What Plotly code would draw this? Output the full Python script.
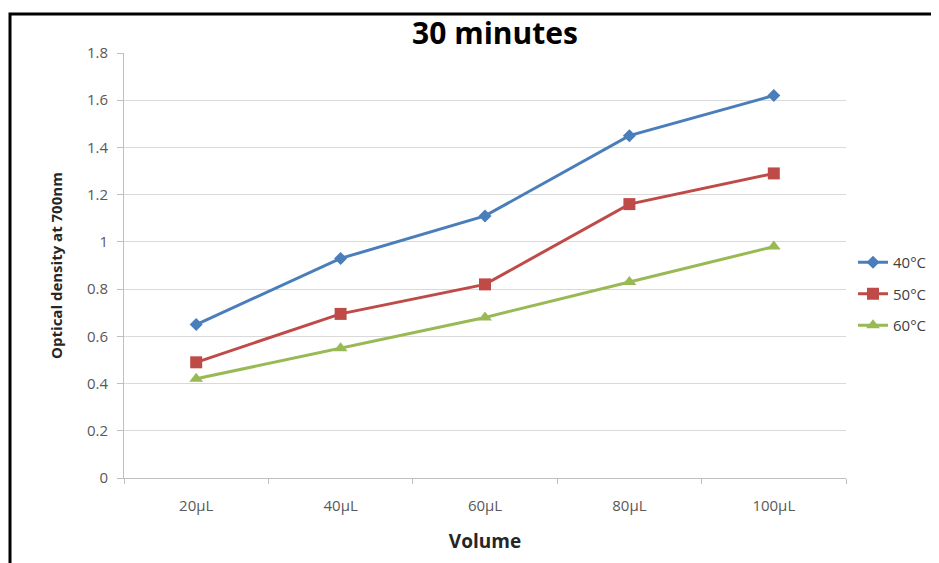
import plotly.graph_objects as go

categories = ["20µL", "40µL", "60µL", "80µL", "100µL"]
s40 = [0.65, 0.93, 1.11, 1.45, 1.62]
s50 = [0.49, 0.695, 0.82, 1.16, 1.29]
s60 = [0.42, 0.55, 0.68, 0.83, 0.98]
series_names = ["40°C", "50°C", "60°C"]
y_ticks = [0, 0.2, 0.4, 0.6, 0.8, 1.0, 1.2, 1.4, 1.6, 1.8]

FONT = "Open Sans"
colors = ["#4A7EBB", "#BE4B48", "#98B954"]
symbols = ["diamond", "square", "triangle-up"]
msizes = [10, 12, 12]

# page body has an 8px margin; figure sized to end at the viewport edge
W, H = 931, 555
L, T = 116, 45
PW, PH = 722, 425
R, B = W - L - PW, H - T - PH

fig = go.Figure()
for i, (name, vals) in enumerate(zip(series_names, [s40, s50, s60])):
    fig.add_trace(go.Scatter(
        x=categories, y=vals, name=name, mode="lines+markers",
        line=dict(color=colors[i], width=3),
        marker=dict(symbol=symbols[i], size=msizes[i], color=colors[i]),
        legendgroup=name,
    ))

fig.update_layout(
    width=W, height=H,
    margin=dict(l=L, r=R, t=T, b=B, pad=0, autoexpand=False),
    paper_bgcolor="white", plot_bgcolor="white",
    font=dict(family=FONT, color="#404040"),
    title=dict(text="<b>30 minutes</b>", x=(495 - 8) / W, xanchor="center",
               y=1 - (33 - 8) / H, yanchor="middle",
               font=dict(family=FONT, size=30, color="#000000")),
    showlegend=True,
    legend=dict(x=(853 - 124) / PW, y=(478 - 246) / PH, xanchor="left", yanchor="top",
                font=dict(family=FONT, size=15, color="#404040"),
                tracegroupgap=9, itemwidth=30, bgcolor="rgba(0,0,0,0)"),
    xaxis=dict(
        type="category", showgrid=False, showline=True, linecolor="#BFBFBF", linewidth=1,
        ticks="outside", tickson="boundaries", ticklen=5, tickcolor="#BFBFBF",
        tickfont=dict(family=FONT, size=15, color="#595959"),
        ticklabelstandoff=14,
        title=dict(text="<b>Volume</b>", font=dict(family=FONT, size=19, color="#262626"), standoff=20),
        range=[-0.5, 4.5],
    ),
    yaxis=dict(
        range=[0, 1.8], tickvals=y_ticks, showgrid=True, gridcolor="#D9D9D9", gridwidth=1,
        showline=True, linecolor="#BFBFBF", linewidth=1, zeroline=False,
        ticks="outside", ticklen=6, tickcolor="#BFBFBF",
        tickfont=dict(family=FONT, size=15, color="#595959"),
        ticklabelstandoff=6,
        title=dict(text="<b>Optical density at 700nm</b>", font=dict(family=FONT, size=15, color="#262626"), standoff=20),
    ),
    shapes=[dict(type="rect", xref="paper", yref="paper",
                 x0=(10 - 124) / PW, x1=(980 - 124) / PW,
                 y0=(478 - 600) / PH, y1=(478 - 14) / PH,
                 line=dict(color="black", width=3), fillcolor="rgba(0,0,0,0)", layer="above")],
)

fig.write_html("out.html")
